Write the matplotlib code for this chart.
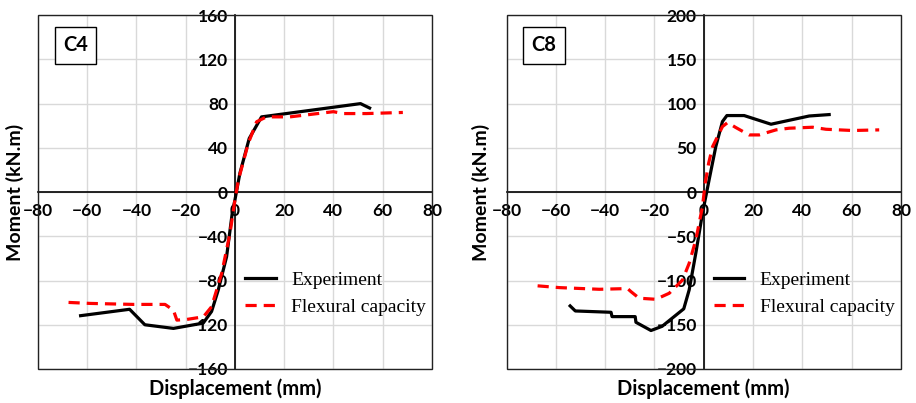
import matplotlib
matplotlib.use("Agg")
import matplotlib.pyplot as plt
from matplotlib.patches import Rectangle

plt.rcParams['font.family'] = ['Lato', 'DejaVu Sans']

# C4 data
c4ExpX = [-62.7, -42.8, -36.6, -25.0, -12.9, -9.5, -6.8, -3.4, -1.1, 0.0, 2.0, 5.8, 10.8, 51.0, 54.7]
c4ExpY = [-111.8, -106.0, -120.0, -123.3, -118.5, -108.0, -88.7, -58.5, -19.0, -7.0, 17.0, 48.5, 68.0, 80.0, 76.0]
c4FlexX = [-67.6, -58.8, -41.2, -28.4, -25.0, -23.6, -19.6, -12.8, -9.5, -5.4, -2.0, 0.0, 1.4, 5.4, 8.8, 12.8, 22.3, 40.0, 44.0, 53.4, 68.2]
c4FlexY = [-99.8, -100.7, -101.6, -101.6, -106.8, -115.8, -115.2, -112.8, -103.7, -73.6, -37.0, -7.0, 11.0, 44.0, 63.6, 68.0, 68.0, 72.7, 71.0, 71.0, 72.0]

# C8 data
c8ExpX = [-54.2, -52.1, -37.6, -37.2, -27.8, -27.5, -21.4, -16.9, -8.1, -5.9, -3.2, -0.5, 2.2, 4.9, 7.6, 9.4, 16.4, 27.3, 42.8, 50.9]
c8ExpY = [-128.7, -134.4, -135.9, -140.8, -140.8, -147.2, -156.5, -151.8, -132.0, -110.6, -69.0, -24.0, 14.0, 51.4, 79.7, 86.5, 86.5, 76.7, 86.0, 87.6]
c8FlexX = [-67.4, -58.6, -42.4, -30.9, -29.5, -26.2, -19.4, -14.0, -8.6, -5.9, -3.2, -0.5, 0.6, 2.0, 3.6, 7.6, 9.7, 13.0, 18.4, 22.5, 29.3, 34.7, 44.2, 49.6, 60.4, 71.2]
c8FlexY = [-106.0, -108.0, -109.9, -109.1, -112.6, -120.0, -121.2, -114.4, -99.4, -80.5, -54.0, -16.4, 10.0, 32.6, 51.4, 74.0, 78.6, 73.0, 64.6, 64.6, 70.3, 72.2, 73.3, 71.0, 69.6, 70.3]

panels = [
    ("C4", c4ExpX, c4ExpY, c4FlexX, c4FlexY, 160, 40, [0.0415, 0.0844, 0.430, 0.878], -0.059),
    ("C8", c8ExpX, c8ExpY, c8FlexX, c8FlexY, 200, 50, [0.553, 0.0844, 0.4305, 0.878], -0.065),
]

fig = plt.figure(figsize=(9.16, 4.03), dpi=100)

for name, ex, ey, fx, fy, ylim, ystep, rect, ylabX in panels:
    ax = fig.add_axes(rect)
    ax.set_xlim(-80, 80)
    ax.set_ylim(-ylim, ylim)
    ax.set_xticks(range(-80, 81, 20))
    ax.set_yticks(range(-ylim, ylim + 1, ystep))
    ax.grid(True, color="#d9d9d9", lw=1)
    ax.set_axisbelow(True)

    for s in ["top", "right"]:
        ax.spines[s].set_visible(False)
    ax.spines["left"].set_position(("data", 0))
    ax.spines["bottom"].set_position(("data", 0))
    ax.spines["left"].set_linewidth(1.2)
    ax.spines["bottom"].set_linewidth(1.2)
    ax.add_patch(Rectangle((0, 0), 1, 1, transform=ax.transAxes, fill=False,
                           edgecolor="#222222", lw=1, clip_on=False, zorder=5))
    ax.tick_params(length=0, labelsize=12.5)
    ax.tick_params(axis="x", pad=8)
    ax.tick_params(axis="y", pad=5)
    for lab in ax.get_xticklabels() + ax.get_yticklabels():
        lab.set_fontweight("bold")

    ax.plot(ex, ey, color="black", lw=2.3, label="Experiment", zorder=3)
    ax.plot(fx, fy, color="red", lw=2.3, ls=(0, (3.5, 2.2)), label="Flexural capacity", zorder=4)

    ax.text(0.095, 0.915, name, transform=ax.transAxes, fontsize=14.5, fontweight="bold",
            ha="center", va="center",
            bbox=dict(boxstyle="square,pad=0.42", fc="white", ec="black", lw=1))

    ax.legend(loc="center left", bbox_to_anchor=(0.482, 0.213), frameon=False,
              prop={"family": "Liberation Serif", "size": 14}, handlelength=1.55,
              handletextpad=0.8, labelspacing=0.5)

    ax.text(0.5, -0.055, "Displacement (mm)", transform=ax.transAxes, ha="center", va="center",
            fontsize=14.5, fontweight="bold")
    ax.text(ylabX, 0.5, "Moment (kN.m)", transform=ax.transAxes, ha="center", va="center",
            rotation=90, fontsize=14, fontweight="bold")

fig.savefig("out.png", dpi=100)
